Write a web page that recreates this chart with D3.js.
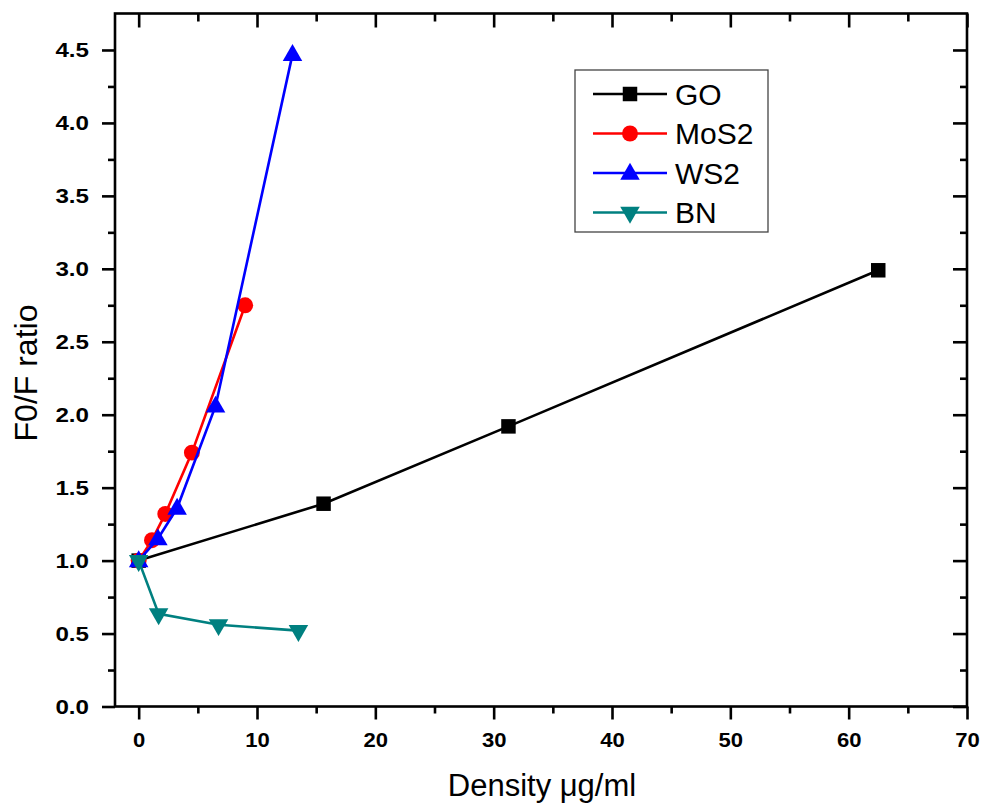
<!DOCTYPE html>
<html>
<head>
<meta charset="utf-8">
<script src="https://cdn.jsdelivr.net/npm/d3@7"></script>
<style>
  html, body { margin: 0; padding: 0; background: #fff; }
  svg { display: block; }
  text { font-family: "Liberation Sans", Arial, sans-serif; }
</style>
</head>
<body>
<svg id="chart" width="982" height="806"></svg>
<script>
// Quenching data: F0/F ratio versus nanosheet density (µg/ml)
const goX = [0, 15.625, 31.25, 62.5];
const goY = [1.0, 1.39, 1.92, 2.99];

const mos2X = [0, 1.125, 2.25, 4.5, 9.0];
const mos2Y = [1.0, 1.14, 1.32, 1.74, 2.75];

const ws2X = [0, 1.625, 3.25, 6.5, 13.0];
const ws2Y = [1.0, 1.15, 1.36, 2.06, 4.47];

const bnX = [0, 1.6875, 6.75, 13.5];
const bnY = [1.0, 0.635, 0.56, 0.52];

const xMajorTicks = [0, 10, 20, 30, 40, 50, 60, 70];
const xMinorTicks = [5, 15, 25, 35, 45, 55, 65];
const yMajorTicks = [0.0, 0.5, 1.0, 1.5, 2.0, 2.5, 3.0, 3.5, 4.0, 4.5];
const yMinorTicks = [0.25, 0.75, 1.25, 1.75, 2.25, 2.75, 3.25, 3.75, 4.25];

const seriesNames = ["GO", "MoS2", "WS2", "BN"];
const seriesColors = ["#000000", "#ff0000", "#0000ff", "#008080"];

const series = [
  { name: seriesNames[0], color: seriesColors[0], shape: "square", x: goX, y: goY },
  { name: seriesNames[1], color: seriesColors[1], shape: "circle", x: mos2X, y: mos2Y },
  { name: seriesNames[2], color: seriesColors[2], shape: "up", x: ws2X, y: ws2Y },
  { name: seriesNames[3], color: seriesColors[3], shape: "down", x: bnX, y: bnY }
];

const svg = d3.select("#chart");
const plot = { left: 115, right: 967, top: 13.5, bottom: 706.5 };

const x = d3.scaleLinear().domain([-2, 70]).range([plot.left, plot.right]);
const y = d3.scaleLinear().domain([0, 4.75]).range([plot.bottom, plot.top]);

const axisColor = "#000";
const axisWidth = 2.6;

// marker generator
function markerPath(shape) {
  if (shape === "square") return d3.symbol().type(d3.symbolSquare).size(210)();
  if (shape === "circle") return d3.symbol().type(d3.symbolCircle).size(200)();
  return d3.symbol().type(d3.symbolTriangle).size(165)();
}
function markerTransform(shape, px, py) {
  if (shape === "down") return `translate(${px},${py}) rotate(180)`;
  if (shape === "up") return `translate(${px},${py + 1})`;
  return `translate(${px},${py})`;
}

// series lines + markers
const lineGen = d3.line().x(d => x(d[0])).y(d => y(d[1]));
series.forEach(s => {
  const pts = s.x.map((v, i) => [v, s.y[i]]);
  const g = svg.append("g");
  g.append("path")
    .attr("d", lineGen(pts))
    .attr("fill", "none")
    .attr("stroke", s.color)
    .attr("stroke-width", 2.6);
  g.selectAll("path.m")
    .data(pts)
    .enter()
    .append("path")
    .attr("class", "m")
    .attr("d", markerPath(s.shape))
    .attr("transform", d => markerTransform(s.shape, x(d[0]), y(d[1])))
    .attr("fill", s.color);
});

// bottom axis (outward ticks) with labels
const bottomAxis = d3.axisBottom(x).tickValues(xMajorTicks).tickSize(13).tickPadding(13).tickFormat(d3.format("d"));
const gB = svg.append("g").attr("transform", `translate(0,${plot.bottom})`).call(bottomAxis);
gB.select(".domain").remove();
gB.selectAll(".tick line").attr("stroke", axisColor).attr("stroke-width", axisWidth);
gB.selectAll(".tick text")
  .attr("fill", "#000")
  .attr("font-size", 21)
  .attr("font-weight", "bold")
  .attr("dy", "0.71em")
  .attr("x", 0)
  .attr("transform", "scale(1.05,1)");
svg.append("g").attr("transform", `translate(0,${plot.bottom})`)
  .call(d3.axisBottom(x).tickValues(xMinorTicks).tickSize(7).tickFormat(""))
  .call(g => g.select(".domain").remove())
  .call(g => g.selectAll(".tick line").attr("stroke", axisColor).attr("stroke-width", axisWidth));

// left axis (outward ticks) with labels
const leftAxis = d3.axisLeft(y).tickValues(yMajorTicks).tickSize(13).tickPadding(8).tickFormat(d3.format(".1f"));
const gL = svg.append("g").attr("transform", `translate(${plot.left},0)`).call(leftAxis);
gL.select(".domain").remove();
gL.selectAll(".tick line").attr("stroke", axisColor).attr("stroke-width", axisWidth);
gL.selectAll(".tick text")
  .attr("fill", "#000")
  .attr("font-size", 21)
  .attr("font-weight", "bold")
  .attr("x", 0)
  .attr("transform", "translate(-26,0) scale(1.15,1)");
svg.append("g").attr("transform", `translate(${plot.left},0)`)
  .call(d3.axisLeft(y).tickValues(yMinorTicks).tickSize(7).tickFormat(""))
  .call(g => g.select(".domain").remove())
  .call(g => g.selectAll(".tick line").attr("stroke", axisColor).attr("stroke-width", axisWidth));

// top axis (inward ticks, no labels)
svg.append("g").attr("transform", `translate(0,${plot.top})`)
  .call(d3.axisTop(x).tickValues(xMajorTicks).tickSize(-14).tickFormat(""))
  .call(g => g.select(".domain").remove())
  .call(g => g.selectAll(".tick line").attr("stroke", axisColor).attr("stroke-width", axisWidth));
svg.append("g").attr("transform", `translate(0,${plot.top})`)
  .call(d3.axisTop(x).tickValues(xMinorTicks).tickSize(-8).tickFormat(""))
  .call(g => g.select(".domain").remove())
  .call(g => g.selectAll(".tick line").attr("stroke", axisColor).attr("stroke-width", axisWidth));

// right axis (inward ticks, no labels)
svg.append("g").attr("transform", `translate(${plot.right},0)`)
  .call(d3.axisRight(y).tickValues(yMajorTicks).tickSize(-14).tickFormat(""))
  .call(g => g.select(".domain").remove())
  .call(g => g.selectAll(".tick line").attr("stroke", axisColor).attr("stroke-width", axisWidth));
svg.append("g").attr("transform", `translate(${plot.right},0)`)
  .call(d3.axisRight(y).tickValues(yMinorTicks).tickSize(-7).tickFormat(""))
  .call(g => g.select(".domain").remove())
  .call(g => g.selectAll(".tick line").attr("stroke", axisColor).attr("stroke-width", axisWidth));

// frame
svg.append("rect")
  .attr("x", plot.left).attr("y", plot.top)
  .attr("width", plot.right - plot.left).attr("height", plot.bottom - plot.top)
  .attr("fill", "none").attr("stroke", axisColor).attr("stroke-width", axisWidth);

// axis titles
svg.append("text")
  .attr("x", 542)
  .attr("y", 796)
  .attr("text-anchor", "middle")
  .attr("font-size", 31)
  .attr("fill", "#000")
  .text("Density μg/ml");

svg.append("text")
  .attr("transform", `translate(37,373) rotate(-90)`)
  .attr("text-anchor", "middle")
  .attr("font-size", 32)
  .attr("fill", "#000")
  .text("F0/F ratio");

// legend
const legend = svg.append("g");
legend.append("rect")
  .attr("x", 575).attr("y", 70).attr("width", 193).attr("height", 162)
  .attr("fill", "#fff").attr("stroke", "#444").attr("stroke-width", 1.3);
series.forEach((s, i) => {
  const ry = 94 + i * 39.5;
  legend.append("line")
    .attr("x1", 593).attr("x2", 667).attr("y1", ry).attr("y2", ry)
    .attr("stroke", s.color).attr("stroke-width", 2.6);
  legend.append("path")
    .attr("d", markerPath(s.shape))
    .attr("transform", markerTransform(s.shape, 630, ry))
    .attr("fill", s.color);
  legend.append("text")
    .attr("x", 675).attr("y", ry + 10.5)
    .attr("font-size", 30)
    .attr("fill", "#000")
    .text(s.name);
});
</script>
</body>
</html>
